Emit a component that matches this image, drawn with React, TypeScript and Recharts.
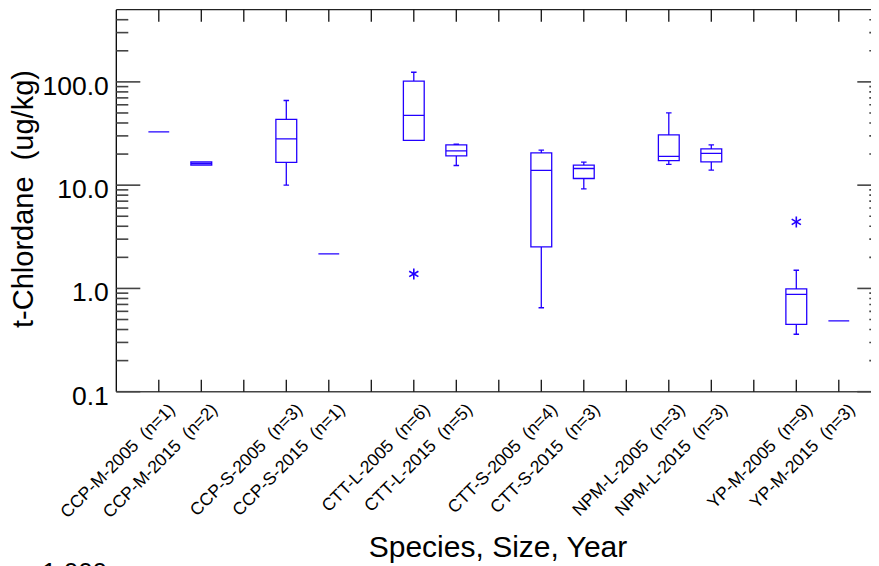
import React from 'react';
import { ComposedChart, Line, Scatter, XAxis, YAxis, Label } from 'recharts';

// ---------- data ----------
const categories = [
  'CCP-M-2005  (n=1)',
  'CCP-M-2015  (n=2)',
  '',
  'CCP-S-2005  (n=3)',
  'CCP-S-2015  (n=1)',
  '',
  'CTT-L-2005  (n=6)',
  'CTT-L-2015  (n=5)',
  '',
  'CTT-S-2005  (n=4)',
  'CTT-S-2015  (n=3)',
  '',
  'NPM-L-2005  (n=3)',
  'NPM-L-2015  (n=3)',
  '',
  'YP-M-2005  (n=9)',
  'YP-M-2015  (n=3)',
];

// category index of each box
const boxPositions = [0, 1, 3, 4, 6, 7, 9, 10, 12, 13, 15, 16];
const whiskerLow = [32.8, 15.6, 10.0, 2.16, 27.1, 15.5, 0.65, 9.2, 15.9, 14.0, 0.36, 0.486];
const quartile1 = [32.8, 15.6, 16.6, 2.16, 27.1, 19.2, 2.53, 11.6, 17.3, 16.8, 0.448, 0.486];
const medians = [32.8, 16.2, 28.1, 2.16, 47.3, 21.5, 13.9, 14.5, 19.0, 20.3, 0.875, 0.486];
const quartile3 = [32.8, 16.8, 43.3, 2.16, 101.6, 24.6, 20.5, 15.6, 30.7, 22.5, 0.99, 0.486];
const whiskerHigh = [32.8, 16.8, 66.0, 2.16, 124.0, 24.9, 21.8, 16.7, 50.1, 24.6, 1.5, 0.486];

const outlierX = [6, 15];
const outlierY = [1.38, 4.41];

const yMajorTicks = [0.1, 1, 10, 100];
const yMinorTicks = [
  0.2, 0.3, 0.4, 0.5, 0.6, 0.7, 0.8, 0.9,
  2, 3, 4, 5, 6, 7, 8, 9,
  20, 30, 40, 50, 60, 70, 80, 90,
  200, 300, 400,
];
const xDomain: [number, number] = [-1, 17];
const yDomain: [number, number] = [0.1, 500];

const yTitle = 't-Chlordane  (ug/kg)';
const xTitle = 'Species, Size, Year';
const footText = '1.000';

// ---------- styles ----------
const FONT = '"Liberation Sans", Arial, Helvetica, sans-serif';
const BLUE = '#2200ff';
const AXIS = '#222222';
const TICK = '#444444';
const BOX_HALF = 0.245;
const CAP_HALF = 0.065;
const MAJOR_LEN = 24;
const MINOR_LEN = 12;
const X_TICK_LEN = 12;

const xTicks = categories.map((_, i) => i);
const yAllTicks = [...yMajorTicks, ...yMinorTicks].sort((a, b) => a - b);
const outliers = outlierX.map((x, i) => ({ x, y: outlierY[i] }));

function boxSeries(i: number) {
  const x = boxPositions[i];
  const lo = whiskerLow[i];
  const q1 = quartile1[i];
  const md = medians[i];
  const q3 = quartile3[i];
  const hi = whiskerHigh[i];
  const w = BOX_HALF;
  const c = CAP_HALF;
  return [
    { x: x - c, y: lo },
    { x: x + c, y: lo },
    { x: x, y: lo },
    { x: x, y: q1 },
    { x: x - w, y: q1 },
    { x: x - w, y: q3 },
    { x: x + w, y: q3 },
    { x: x + w, y: q1 },
    { x: x - w, y: q1 },
    { x: x - w, y: md },
    { x: x + w, y: md },
    { x: x + w, y: q3 },
    { x: x, y: q3 },
    { x: x, y: hi },
    { x: x - c, y: hi },
    { x: x + c, y: hi },
  ];
}

const boxes = boxPositions.map((_, i) => boxSeries(i));

const isMajor = (v: number) => yMajorTicks.includes(v);

// bottom axis: inward tick + rotated label
const BottomTick = (props: any) => {
  const { x, y, payload } = props;
  const label = categories[payload.value];
  const ex = x + 17;
  const ey = y + 19;
  return (
    <g>
      <line x1={x} y1={y} x2={x} y2={y - X_TICK_LEN} stroke="#111" strokeWidth={1.3} />
      {label ? (
        <text
          x={ex}
          y={ey}
          transform={`rotate(-45 ${ex} ${ey})`}
          textAnchor="end"
          fontFamily={FONT}
          fontSize={17.5}
          fill="#000"
          xmlSpace="preserve"
          style={{ whiteSpace: 'pre' }}
        >
          {label}
        </text>
      ) : null}
    </g>
  );
};

// top axis: inward tick only
const TopTick = (props: any) => {
  const { x, y } = props;
  return <line x1={x} y1={y} x2={x} y2={y + X_TICK_LEN} stroke="#111" strokeWidth={1.3} />;
};

// left axis: inward ticks + labels on decades
const LeftTick = (props: any) => {
  const { x, y, payload } = props;
  const v = Number(payload.value);
  const major = isMajor(v);
  return (
    <g>
      <line
        x1={x}
        y1={y}
        x2={x + (major ? MAJOR_LEN : MINOR_LEN)}
        y2={y}
        stroke={TICK}
        strokeWidth={1.6}
      />
      {major ? (
        <text x={x - 7.5} y={y + 12.8} textAnchor="end" fontFamily={FONT} fontSize={26.5} fill="#000">
          {v.toFixed(1)}
        </text>
      ) : null}
    </g>
  );
};

// right axis: inward ticks only
const RightTick = (props: any) => {
  const { x, y, payload } = props;
  const v = Number(payload.value);
  const len = isMajor(v) ? MAJOR_LEN : MINOR_LEN;
  return <line x1={x} y1={y} x2={x - len} y2={y} stroke={TICK} strokeWidth={1.6} />;
};

const Asterisk = (props: any) => {
  const { cx, cy } = props;
  if (cx == null || cy == null) return <g />;
  const r = 5.5;
  const dx = 4.6;
  const dy = 2.7;
  return (
    <g stroke={BLUE} strokeWidth={1.6}>
      <line x1={cx} y1={cy - r} x2={cx} y2={cy + r} />
      <line x1={cx - dx} y1={cy - dy} x2={cx + dx} y2={cy + dy} />
      <line x1={cx - dx} y1={cy + dy} x2={cx + dx} y2={cy - dy} />
    </g>
  );
};

export default function App() {
  return (
    <div style={{ width: 871, height: 558, overflow: 'hidden' }}>
      <ComposedChart width={876} height={558} margin={{ top: 0, right: 0, bottom: 0, left: 0 }}>
        <XAxis
          xAxisId="main"
          type="number"
          dataKey="x"
          domain={xDomain}
          allowDataOverflow
          ticks={xTicks}
          interval={0}
          tickLine={false}
          tickSize={0}
          tickMargin={0}
          height={174.3}
          axisLine={{ stroke: TICK, strokeWidth: 1.5 }}
          tick={<BottomTick />}
        >
          <Label
            content={() => (
              <text x={490} y={549} textAnchor="middle" fontFamily={FONT} fontSize={30} fill="#000">
                {xTitle}
              </text>
            )}
          />
        </XAxis>
        <XAxis
          xAxisId="top"
          type="number"
          dataKey="x"
          domain={xDomain}
          allowDataOverflow
          ticks={xTicks}
          interval={0}
          orientation="top"
          height={1.7}
          tickLine={false}
          tickSize={0}
          tickMargin={0}
          axisLine={{ stroke: AXIS, strokeWidth: 1.3 }}
          tick={<TopTick />}
        />

        <YAxis
          yAxisId="main"
          dataKey="y"
          type="number"
          scale="log"
          domain={yDomain}
          allowDataOverflow
          ticks={yAllTicks}
          interval={0}
          width={108.3}
          tickLine={false}
          tickSize={0}
          tickMargin={0}
          axisLine={{ stroke: '#000', strokeWidth: 1.3 }}
          tick={<LeftTick />}
        >
          <Label
            content={() => (
              <text
                x={25.3}
                y={191}
                transform="rotate(-90 25.3 191)"
                textAnchor="middle"
                fontFamily={FONT}
                fontSize={29}
                fill="#000"
                xmlSpace="preserve"
                style={{ whiteSpace: 'pre' }}
              >
                {yTitle}
              </text>
            )}
          />
        </YAxis>
        <YAxis
          yAxisId="right"
          type="number"
          scale="log"
          domain={yDomain}
          allowDataOverflow
          ticks={yAllTicks}
          interval={0}
          orientation="right"
          width={2.7}
          tickLine={false}
          tickSize={0}
          tickMargin={0}
          axisLine={{ stroke: AXIS, strokeWidth: 1.3 }}
          tick={<RightTick />}
        >
          <Label
            content={() => (
              <text x={34} y={573} fontFamily={FONT} fontSize={26} fill="#000">
                {footText}
              </text>
            )}
          />
        </YAxis>

        {boxes.map((data, i) => (
          <Line
            key={`box-${i}`}
            xAxisId="main"
            yAxisId="main"
            data={data}
            dataKey="y"
            type="linear"
            stroke={BLUE}
            strokeWidth={1.3}
            strokeLinejoin="miter"
            dot={false}
            activeDot={false}
            legendType="none"
            isAnimationActive={false}
          />
        ))}
        <Scatter
          xAxisId="main"
          yAxisId="main"
          data={outliers}
          dataKey="y"
          shape={<Asterisk />}
          isAnimationActive={false}
        />
      </ComposedChart>
    </div>
  );
}
